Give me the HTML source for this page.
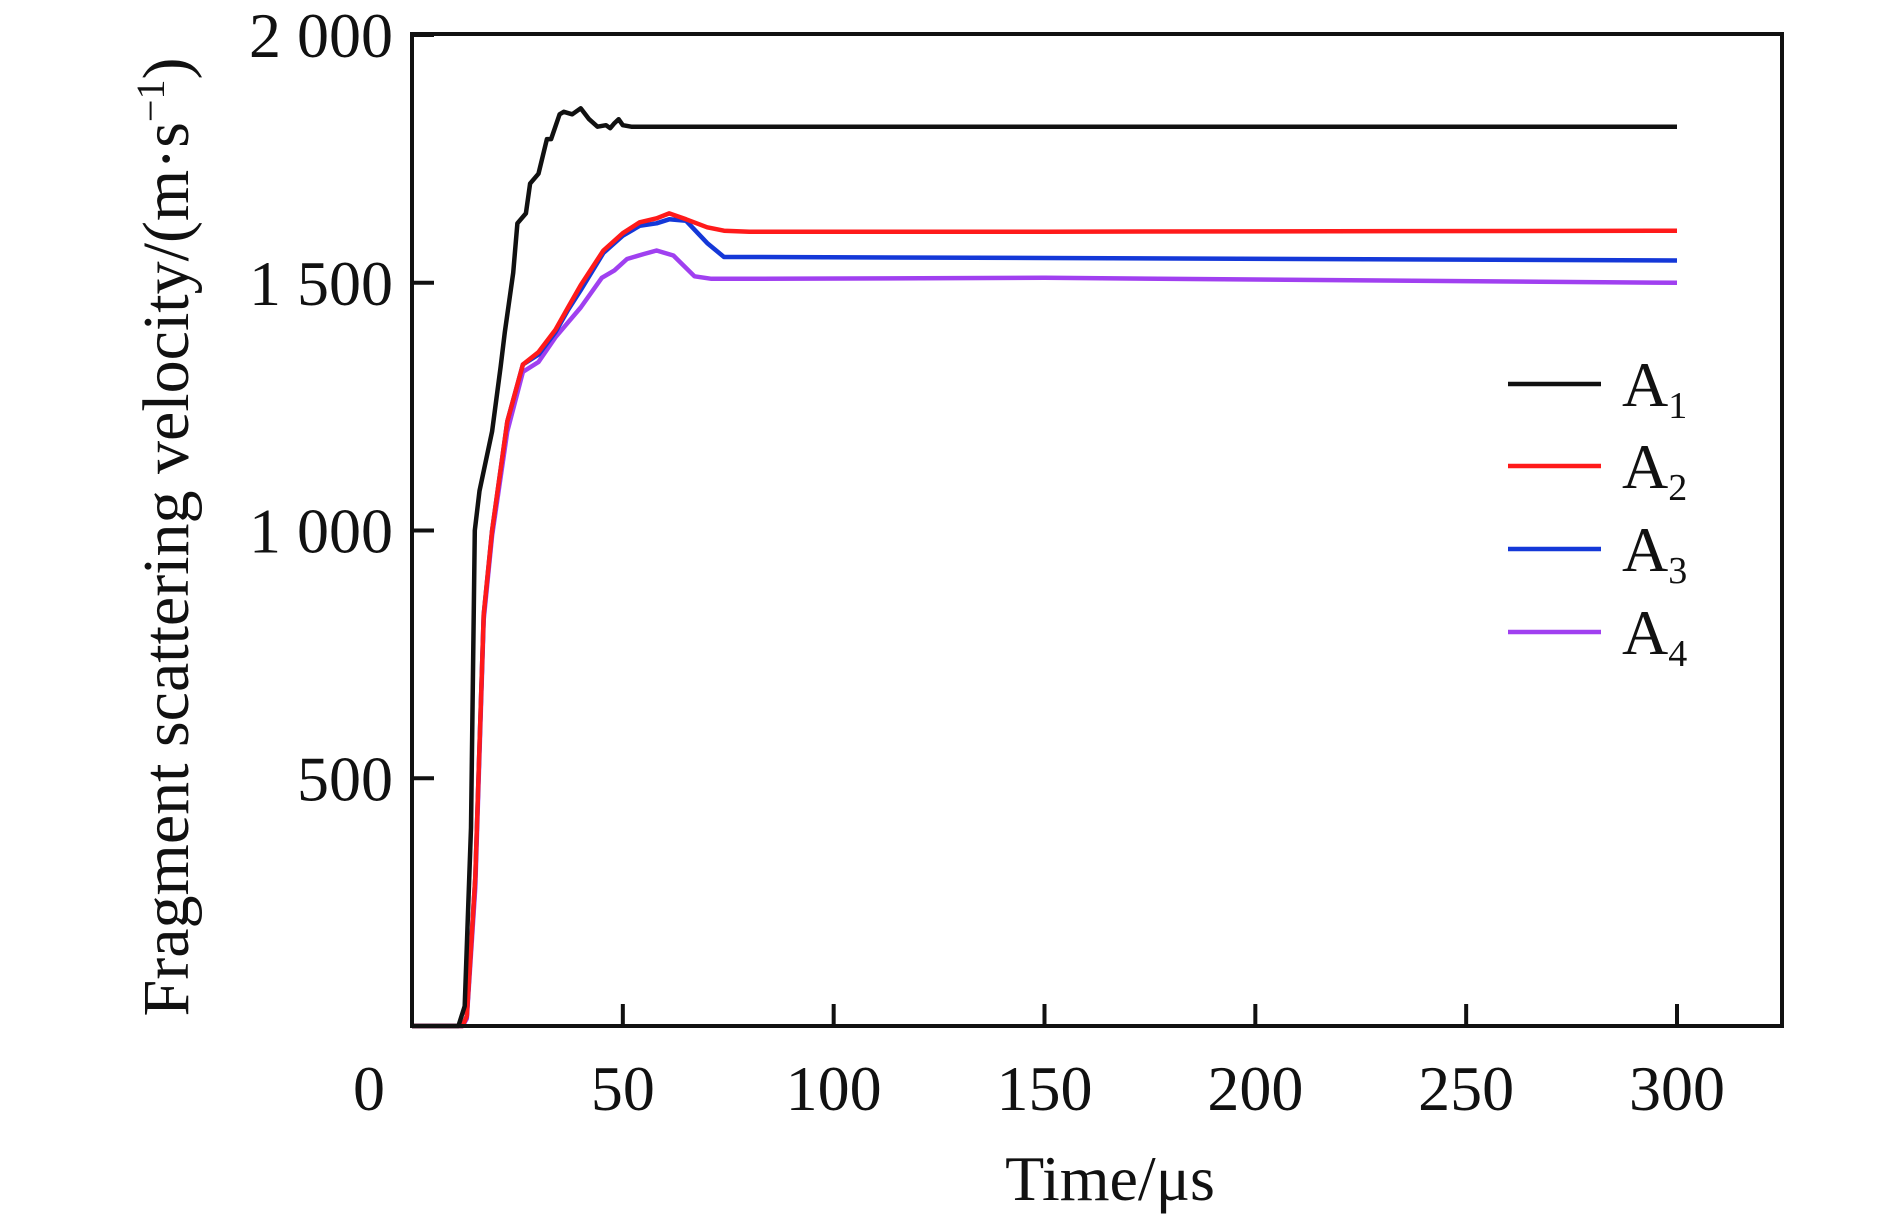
<!DOCTYPE html>
<html><head><meta charset="utf-8"><style>
html,body{margin:0;padding:0;background:#fff}
svg{display:block}
text{font-family:"Liberation Serif",serif;fill:#111}
</style></head><body>
<svg id="chart" width="1890" height="1214" viewBox="0 0 1890 1214" xmlns="http://www.w3.org/2000/svg">
<g id="series"></g>
<rect x="412" y="34" width="1370" height="992" fill="none" stroke="#111" stroke-width="4"/>
<g id="axes"></g>
<text transform="translate(188,537) rotate(-90)" text-anchor="middle" font-size="66">Fragment scattering velocity/(m·s<tspan dy="-24" font-size="40">−1</tspan><tspan dy="24">)</tspan></text>
<text x="1110" y="1200" text-anchor="middle" font-size="64">Time/μs</text>
<g id="legend"></g>
</svg>
<script>
const xTicks=[0,50,100,150,200,250,300];
const yTicks=[500,1000,1500,2000];
const yTickLabels=["500","1 000","1 500","2 000"];
const seriesNames=["A1","A2","A3","A4"];
const seriesColors=["#111111","#ff1a1a","#1438d8","#a040f0"];
const a1T=[0,11,12.5,14,14.9,16,19,21,22,24,25,27,28,30,32,33,35,36,38,40,42,44,46,47,48,49,50,52,55,100,200,300];
const a1V=[0,0,40,400,1000,1080,1200,1330,1400,1520,1620,1640,1700,1720,1790,1790,1840,1845,1840,1852,1830,1815,1818,1812,1822,1830,1818,1815,1815,1815,1815,1815];
const a2T=[0,12,13,15,17,19,22.6,26.3,30,34,37,40,45.4,50,54,58,61,65,70,74,80,150,300];
const a2V=[0,0,20,300,830,1000,1220,1335,1360,1405,1450,1495,1565,1600,1622,1630,1640,1628,1612,1605,1603,1603,1605];
const a3T=[0,12,13,15,17,19,22.6,26.3,30,34,37,40,45.4,50,54,58,61,65,70,74,80,150,300];
const a3V=[0,0,20,300,830,1000,1220,1335,1355,1400,1445,1485,1560,1595,1615,1620,1628,1625,1580,1552,1552,1550,1545];
const a4T=[0,12,13,15,17,19,22.6,26.3,30,34,37,40,45,48,51,55,58,62,67,71,80,150,300];
const a4V=[0,0,15,280,820,990,1200,1320,1340,1390,1420,1450,1510,1525,1548,1558,1565,1555,1513,1508,1508,1510,1500];
const seriesT=[a1T,a2T,a3T,a4T], seriesV=[a1V,a2V,a3V,a4V];
const X0=412,X300=1677,Y0=1026,Y2000=35;
const xs=t=>X0+(X300-X0)*t/300;
const ys=v=>Y0-(Y0-Y2000)*v/2000;
const NS="http://www.w3.org/2000/svg";
const sg=document.getElementById('series'),ag=document.getElementById('axes'),lg=document.getElementById('legend');
for(let s=3;s>=0;s--){
  const p=document.createElementNS(NS,'path');
  
  
  p.setAttribute('d',seriesT[s].map((t,i)=>(i?'L':'M')+xs(t).toFixed(1)+','+ys(seriesV[s][i]).toFixed(1)).join(''));
  p.setAttribute('fill','none');p.setAttribute('stroke',seriesColors[s]);p.setAttribute('stroke-width','4.5');p.setAttribute('stroke-linejoin','round');
  sg.appendChild(p);
}
xTicks.forEach(t=>{
  const x=xs(t);
  if(t>0){const l=document.createElementNS(NS,'line');
  
  
  l.setAttribute('x1',x);l.setAttribute('x2',x);l.setAttribute('y1',Y0);l.setAttribute('y2',Y0-22);l.setAttribute('stroke','#111');l.setAttribute('stroke-width','4');ag.appendChild(l);}
  const tx=document.createElementNS(NS,'text');
  
  
  tx.setAttribute('x',t===0?x-43:x);tx.setAttribute('y',1110);tx.setAttribute('text-anchor','middle');tx.setAttribute('font-size','64');tx.textContent=String(t);ag.appendChild(tx);
});
yTicks.forEach((v,i)=>{
  const y=ys(v);
  const l=document.createElementNS(NS,'line');
  
  
  l.setAttribute('x1',X0);l.setAttribute('x2',X0+22);l.setAttribute('y1',y);l.setAttribute('y2',y);l.setAttribute('stroke','#111');l.setAttribute('stroke-width','4');ag.appendChild(l);
  const tx=document.createElementNS(NS,'text');
  
  
  tx.setAttribute('x',393);tx.setAttribute('y',y+22);tx.setAttribute('text-anchor','end');tx.setAttribute('font-size','64');tx.textContent=yTickLabels[i];ag.appendChild(tx);
});
const legY=[384,466,549,632];
seriesNames.forEach((n,i)=>{
  const g=document.createElementNS(NS,'g');
  
  
  const l=document.createElementNS(NS,'line');
  
  
  l.setAttribute('x1',1508);l.setAttribute('x2',1601);l.setAttribute('y1',legY[i]);l.setAttribute('y2',legY[i]);l.setAttribute('stroke',seriesColors[i]);l.setAttribute('stroke-width','4.5');g.appendChild(l);
  const tx=document.createElementNS(NS,'text');
  
  
  tx.setAttribute('x',1622);tx.setAttribute('y',legY[i]+22);tx.setAttribute('font-size','64');
  tx.innerHTML='A<tspan dy="12" font-size="38">'+n.slice(1)+'</tspan>';
  g.appendChild(tx);lg.appendChild(g);
});
</script>
</body></html>
